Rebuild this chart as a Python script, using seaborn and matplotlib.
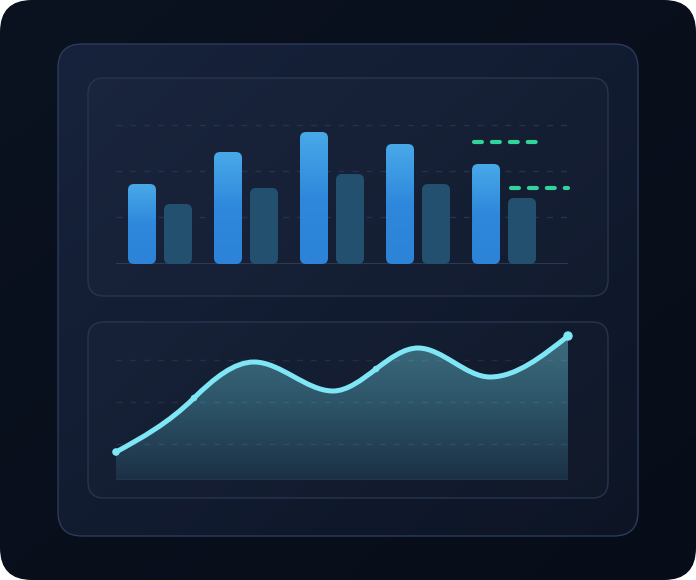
import numpy as np
import pandas as pd
import seaborn as sns
import matplotlib.pyplot as plt
from matplotlib.patches import FancyBboxPatch, PathPatch
from matplotlib.path import Path
from matplotlib.colors import LinearSegmentedColormap

# bar panel data
groups = ["A", "B", "C", "D", "E"]
current = [80, 112, 132, 120, 100]
previous = [60, 76, 90, 80, 66]
targets = [122, 76]
bar_grid = [47, 93, 139]

# line panel data
line_x = [0, 78, 138, 217, 260, 302, 374, 452]
line_y = [28, 82, 118, 89, 111, 132, 103, 144]
marked = [0, 1, 4, 7]
line_grid = [36, 78, 120]

bars = pd.DataFrame({
    "group": groups * 2,
    "value": current + previous,
    "series": ["current"] * 5 + ["previous"] * 5,
})


def rounded(x, y, w, h, r, **kw):
    return FancyBboxPatch((x, y), w, h, boxstyle=f"round,pad=0,rounding_size={r}", **kw)


def grad(ax, extent, colors, clip, diagonal=False, z=1):
    cmap = LinearSegmentedColormap.from_list("g", colors)
    t = np.linspace(0, 1, 200)
    if diagonal:
        arr = (t[:, None] + t[None, :]) / 2
    else:
        arr = np.repeat(t[:, None], 2, axis=1)
    im = ax.imshow(arr, extent=extent, cmap=cmap, vmin=0, vmax=1, aspect="auto",
                   interpolation="bilinear", zorder=z)
    im.set_clip_path(clip)
    return im


def smooth_path(xs, ys, close=False):
    # cubic pieces: flat at peaks/troughs, eased through the other points
    xs, ys = np.asarray(xs, float), np.asarray(ys, float)
    h = np.diff(xs)
    s = np.diff(ys) / h
    m = np.zeros_like(ys)
    for i in range(1, len(xs) - 1):
        if s[i - 1] * s[i] > 0:
            c = 1.5 * (ys[i + 1] - ys[i - 1]) / (xs[i + 1] - xs[i - 1])
            m[i] = np.sign(c) * min(abs(c), 3 * abs(s[i - 1]), 3 * abs(s[i]))
    m[0] = (3 * s[0] - m[1]) / 2
    m[-1] = (3 * s[-1] - m[-2]) / 2
    verts = [(xs[0], ys[0])]
    codes = [Path.MOVETO]
    for i in range(len(xs) - 1):
        d = h[i] / 3
        verts += [(xs[i] + d, ys[i] + m[i] * d), (xs[i + 1] - d, ys[i + 1] - m[i + 1] * d), (xs[i + 1], ys[i + 1])]
        codes += [Path.CURVE4] * 3
    if close:
        verts += [(xs[-1], 0), (xs[0], 0), (xs[0], ys[0])]
        codes += [Path.LINETO, Path.LINETO, Path.CLOSEPOLY]
    return Path(verts, codes)


fig = plt.figure(figsize=(6.96, 5.8), dpi=100, facecolor="white")

# background frame
ax0 = fig.add_axes([0, 0, 1, 1])
ax0.set_axis_off()
outer = rounded(0, 0, 696, 580, 32, fc="none", ec="none")
ax0.add_patch(outer)
grad(ax0, (0, 696, 580, 0), ["#0b1220", "#070d18"], outer, diagonal=True, z=0)

card = rounded(58, 44, 580, 492, 24, fc="none", ec="#2b3b5b", lw=1.0, zorder=3)
ax0.add_patch(card)
grad(ax0, (58, 638, 536, 44), ["#17233c", "#121c31", "#0d1525"], card, diagonal=True, z=1)

for top, height in [(78, 218), (322, 176)]:
    ax0.add_patch(rounded(88, top, 520, height, 16, fc=(1, 1, 1, 0.015), ec="#26354e", lw=1.0, zorder=4))
ax0.set_xlim(0, 696)
ax0.set_ylim(580, 0)

# bar chart
ax1 = fig.add_axes([116 / 696, (580 - 264) / 580, 452 / 696, 164 / 580])
sns.barplot(data=bars, x="group", y="value", hue="series", palette=["#2f88dc", "#24506f"],
            width=0.837, gap=0.222, saturation=1, errorbar=None, legend=False, ax=ax1)
patches = list(ax1.patches)
for i, p in enumerate(patches):
    x, w, h = p.get_x(), p.get_width(), p.get_height()
    fc = p.get_facecolor()
    p.remove()
    if i < len(groups):
        box = rounded(x, 0, w, h, 0.07, mutation_aspect=86, fc="none", ec="none")
        ax1.add_patch(box)
        grad(ax1, (x, x + w, 0, h), ["#48a9e8", "#2f88dc", "#2c83d8"], box, z=3)
    else:
        ax1.add_patch(rounded(x, 0, w, h, 0.07, mutation_aspect=86, fc=fc, ec="none", zorder=3))

for g in bar_grid:
    ax1.axhline(g, color="#24324d", lw=1, dashes=(4.3, 5.7), zorder=1)
ax1.axhline(0, color="#2f3d57", lw=1.3, zorder=2)
for (x0, x1), t in zip([(3.651, 4.372), (4.081, 4.744)], targets):
    ax1.plot([x0, x1], [t, t], color="#34d399", lw=3, dashes=(1.9, 2.4),
             dash_capstyle="round", zorder=5, clip_on=False)
ax1.set_xlim(-0.5116, 4.744)
ax1.set_ylim(0, 164)
ax1.set_axis_off()

# line chart
ax2 = fig.add_axes([116 / 696, 100 / 580, 452 / 696, 150 / 580])
area = PathPatch(smooth_path(line_x, line_y, close=True), fc="none", ec="none")
ax2.add_patch(area)
grad(ax2, (0, 452, 0, 150), ["#3e6f80", "#2d5468", "#1c3045"], area, z=1)
for g in line_grid:
    ax2.axhline(g, color="white", alpha=0.07, lw=1, dashes=(4.3, 5.7), zorder=2)
ax2.axhline(0, color="#35506a", lw=1, zorder=2)
ax2.add_patch(PathPatch(smooth_path(line_x, line_y), fc="none", ec="#7ee6f4", lw=3.6,
                        capstyle="round", joinstyle="round", zorder=4, clip_on=False))
mx = [line_x[i] for i in marked]
my = [line_y[i] for i in marked]
sns.scatterplot(x=mx[1:3], y=my[1:3], s=22, color="#7ee6f4", edgecolor="none", zorder=5, ax=ax2)
sns.scatterplot(x=[mx[0], mx[-1]], y=[my[0], my[-1]], s=[30, 46], color="#7ee6f4",
                edgecolor="none", zorder=5, ax=ax2, clip_on=False)
ax2.set_xlim(0, 452)
ax2.set_ylim(0, 150)
ax2.set_axis_off()

fig.savefig("out.png", dpi=100, facecolor="white")
